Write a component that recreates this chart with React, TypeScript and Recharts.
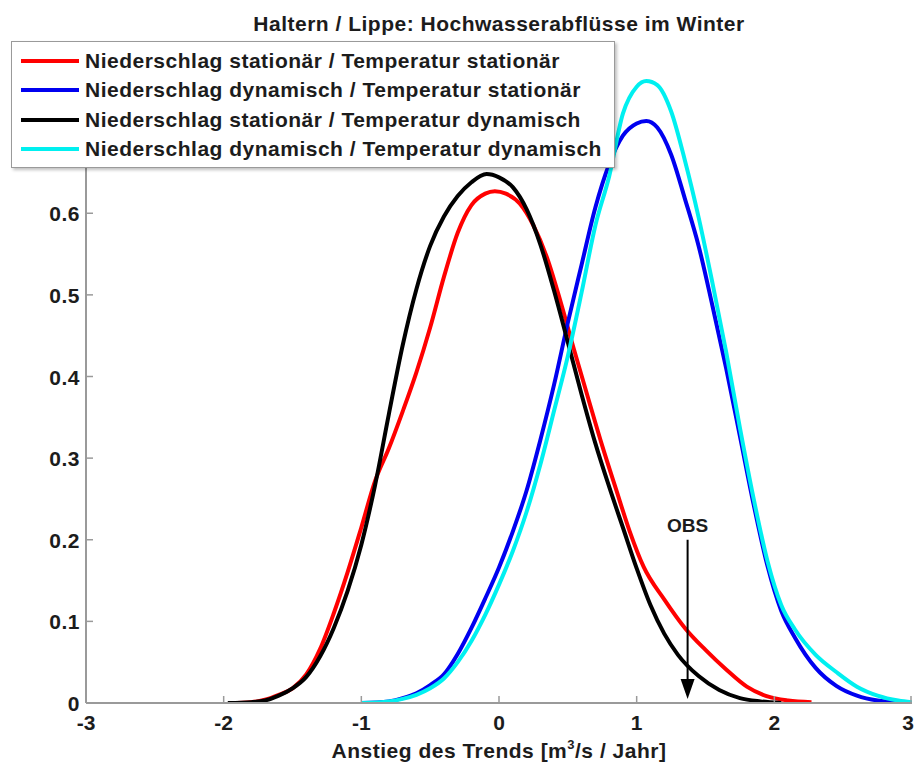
import React from "react";
import { LineChart, Line, XAxis, YAxis, ReferenceLine } from "recharts";

// Red: Niederschlag stationär / Temperatur stationär
const ssX = [-1.95, -1.8, -1.7, -1.6, -1.5, -1.4, -1.3, -1.2, -1.1, -1.0, -0.9, -0.8, -0.7, -0.6, -0.5, -0.4, -0.3, -0.2, -0.1, -0.03, 0.05, 0.15, 0.25, 0.35, 0.45, 0.55, 0.65, 0.75, 0.85, 0.95, 1.05, 1.2, 1.35, 1.5, 1.65, 1.8, 1.95, 2.1, 2.27];
const ssY = [0, 0.001, 0.004, 0.01, 0.018, 0.035, 0.066, 0.11, 0.16, 0.215, 0.272, 0.312, 0.357, 0.405, 0.46, 0.522, 0.576, 0.61, 0.624, 0.627, 0.624, 0.612, 0.585, 0.545, 0.49, 0.43, 0.372, 0.315, 0.262, 0.21, 0.167, 0.127, 0.092, 0.065, 0.041, 0.02, 0.008, 0.003, 0.001];

// Blue: Niederschlag dynamisch / Temperatur stationär
const dsX = [-1.0, -0.8, -0.7, -0.6, -0.5, -0.4, -0.3, -0.2, -0.1, 0.0, 0.1, 0.2, 0.3, 0.4, 0.5, 0.6, 0.7, 0.8, 0.9, 1.0, 1.07, 1.15, 1.25, 1.35, 1.45, 1.55, 1.65, 1.75, 1.85, 1.95, 2.05, 2.15, 2.3, 2.45, 2.6, 2.75, 2.9];
const dsY = [0, 0.002, 0.006, 0.012, 0.022, 0.035, 0.06, 0.092, 0.128, 0.166, 0.21, 0.26, 0.322, 0.39, 0.466, 0.537, 0.607, 0.66, 0.695, 0.71, 0.713, 0.705, 0.672, 0.618, 0.56, 0.487, 0.41, 0.327, 0.243, 0.168, 0.113, 0.08, 0.043, 0.021, 0.009, 0.003, 0.001];

// Black: Niederschlag stationär / Temperatur dynamisch
const sdX = [-1.97, -1.8, -1.7, -1.6, -1.5, -1.4, -1.3, -1.2, -1.1, -1.0, -0.9, -0.8, -0.7, -0.6, -0.5, -0.4, -0.3, -0.2, -0.09, 0.0, 0.1, 0.2, 0.3, 0.4, 0.5, 0.6, 0.7, 0.8, 0.9, 1.0, 1.1, 1.2, 1.3, 1.45, 1.6, 1.75, 1.9, 2.05];
const sdY = [0, 0.001, 0.003, 0.009, 0.018, 0.032, 0.057, 0.092, 0.137, 0.194, 0.267, 0.354, 0.438, 0.507, 0.56, 0.596, 0.621, 0.638, 0.648, 0.644, 0.632, 0.605, 0.562, 0.505, 0.442, 0.378, 0.318, 0.265, 0.215, 0.165, 0.12, 0.085, 0.059, 0.033, 0.016, 0.006, 0.002, 0];

// Cyan: Niederschlag dynamisch / Temperatur dynamisch
const ddX = [-1.0, -0.8, -0.7, -0.6, -0.5, -0.4, -0.3, -0.2, -0.1, 0.0, 0.1, 0.2, 0.3, 0.4, 0.5, 0.6, 0.7, 0.8, 0.9, 1.0, 1.07, 1.15, 1.25, 1.35, 1.45, 1.55, 1.65, 1.75, 1.85, 1.95, 2.05, 2.15, 2.3, 2.45, 2.6, 2.75, 2.9, 3.0];
const ddY = [0, 0.002, 0.005, 0.01, 0.018, 0.03, 0.05, 0.076, 0.108, 0.145, 0.186, 0.234, 0.292, 0.358, 0.425, 0.503, 0.585, 0.645, 0.722, 0.755, 0.762, 0.757, 0.725, 0.665, 0.595, 0.515, 0.43, 0.337, 0.25, 0.174, 0.12, 0.09, 0.059, 0.038, 0.02, 0.009, 0.003, 0.001];

const seriesNames = [
  "Niederschlag stationär / Temperatur stationär",
  "Niederschlag dynamisch / Temperatur stationär",
  "Niederschlag stationär / Temperatur dynamisch",
  "Niederschlag dynamisch / Temperatur dynamisch",
];
const seriesColors = ["#ff0000", "#0000f0", "#000000", "#00f0f0"];

const xTicks = [-3, -2, -1, 0, 1, 2, 3];
const yTicks = [0, 0.1, 0.2, 0.3, 0.4, 0.5, 0.6, 0.7, 0.8];

const obsX = 1.37;
const obsTop = 0.2;
const obsLabel = "OBS";

const title = "Haltern / Lippe: Hochwasserabflüsse im Winter";

const toPoints = (xs: number[], ys: number[]) => xs.map((x, i) => ({ x, y: ys[i] }));
const series = [toPoints(ssX, ssY), toPoints(dsX, dsY), toPoints(sdX, sdY), toPoints(ddX, ddY)];

const W = 915;
const H = 767;
const FONT = "'Liberation Sans', Arial, sans-serif";
const FS = 21;
const LS = 0.5;
const AXIS = "#9a9a9a";
const TEXT = "#1c1c1c";
const TICK = 7;

const BottomTick = (p: any) => {
  // keep the last label inside the picture
  const nearEdge = p.x > W - 10;
  return (
    <g>
      <line x1={p.x} x2={p.x} y1={p.y} y2={p.y - TICK} stroke={AXIS} strokeWidth={1.5} />
      <text
        x={nearEdge ? W - 1 : p.x}
        y={p.y + 27}
        textAnchor={nearEdge ? "end" : "middle"}
        fontFamily={FONT}
        fontWeight="bold"
        fontSize={FS}
        fill={TEXT}
      >
        {p.payload.value}
      </text>
    </g>
  );
};

const TopTick = (p: any) => (
  <line x1={p.x} x2={p.x} y1={p.y} y2={p.y + TICK} stroke={AXIS} strokeWidth={1.5} />
);

const LeftTick = (p: any) => (
  <g>
    <line x1={p.x} x2={p.x + TICK} y1={p.y} y2={p.y} stroke={AXIS} strokeWidth={1.5} />
    <text x={p.x - 6} y={p.y + 8} textAnchor="end" fontFamily={FONT} fontWeight="bold" fontSize={FS} letterSpacing={LS} fill={TEXT}>
      {p.payload.value}
    </text>
  </g>
);

const RightTick = (p: any) => (
  <line x1={p.x} x2={p.x - TICK} y1={p.y} y2={p.y} stroke={AXIS} strokeWidth={1.5} />
);

const XLabel = (p: any) => {
  const vb = p.viewBox;
  return (
    <text x={vb.x + vb.width / 2} y={vb.y + 55} textAnchor="middle" fontFamily={FONT} fontWeight="bold" fontSize={FS} letterSpacing={LS} fill={TEXT}>
      Anstieg des Trends [m
      <tspan dy={-9} fontSize={13}>3</tspan>
      <tspan dy={9}>/s / Jahr]</tspan>
    </text>
  );
};

const ObsArrow = (p: any) => {
  const { x1, y1, x2, y2 } = p;
  return (
    <g>
      <line x1={x1} x2={x2} y1={y1} y2={y2 - 16} stroke="#000" strokeWidth={2} />
      <polygon points={`${x2 - 7},${y2 - 24} ${x2 + 7},${y2 - 24} ${x2},${y2 - 4}`} fill="#000" />
      <line x1={x2} x2={x2} y1={y2 - 1} y2={y2 + 1} stroke="#0000f0" strokeWidth={2} />
      <text x={x1} y={y1 - 8} textAnchor="middle" fontFamily={FONT} fontWeight="bold" fontSize={19} fill={TEXT}>
        {obsLabel}
      </text>
    </g>
  );
};

export default function App() {
  return (
    <div style={{ position: "absolute", left: 0, top: 0, width: W, height: H, background: "#fff" }}>
      <div
        style={{
          position: "absolute",
          left: 86,
          width: 826,
          top: 12,
          textAlign: "center",
          fontFamily: FONT,
          fontWeight: "bold",
          fontSize: FS,
          letterSpacing: LS,
          color: TEXT,
        }}
      >
        {title}
      </div>
      <div style={{ position: "absolute", left: 0, top: 0 }}>
        <LineChart width={W} height={H} margin={{ top: 50, right: 3, bottom: 0, left: 0 }}>
          <XAxis
            dataKey="x"
            type="number"
            domain={[-3, 3]}
            ticks={xTicks}
            allowDataOverflow
            height={64}
            tickSize={0}
            tickMargin={0}
            tick={BottomTick}
            axisLine={{ stroke: AXIS, strokeWidth: 2 }}
            label={XLabel}
          />
          <XAxis
            xAxisId="top"
            orientation="top"
            dataKey="x"
            type="number"
            domain={[-3, 3]}
            ticks={xTicks}
            allowDataOverflow
            height={0}
            tickSize={0}
            tickMargin={0}
            tick={TopTick}
            axisLine={{ stroke: AXIS, strokeWidth: 2 }}
          />
          <YAxis
            type="number"
            domain={[0, 0.8]}
            ticks={yTicks}
            allowDataOverflow
            width={86}
            tickSize={0}
            tickMargin={0}
            tick={LeftTick}
            axisLine={{ stroke: AXIS, strokeWidth: 2 }}
          />
          <YAxis
            yAxisId="right"
            orientation="right"
            type="number"
            domain={[0, 0.8]}
            ticks={yTicks}
            allowDataOverflow
            width={0}
            tickSize={0}
            tickMargin={0}
            tick={RightTick}
            axisLine={{ stroke: AXIS, strokeWidth: 2 }}
          />
          {series.map((data, i) => (
            <Line
              key={seriesNames[i]}
              data={data}
              dataKey="y"
              name={seriesNames[i]}
              type="monotone"
              stroke={seriesColors[i]}
              strokeWidth={4}
              dot={false}
              activeDot={false}
              isAnimationActive={false}
            />
          ))}
          <ReferenceLine
            segment={[
              { x: obsX, y: obsTop },
              { x: obsX, y: 0 },
            ]}
            shape={ObsArrow}
          />
        </LineChart>
      </div>
      <div
        style={{
          position: "absolute",
          left: 11,
          top: 41,
          width: 604,
          height: 127,
          background: "#fff",
          border: "1.5px solid #9a9a9a",
          boxShadow: "2px 2px 3px rgba(0,0,0,0.25)",
          fontFamily: FONT,
          fontWeight: "bold",
          fontSize: FS,
          letterSpacing: LS,
          color: TEXT,
          boxSizing: "border-box",
          paddingTop: 4,
        }}
      >
        {seriesNames.map((name, i) => (
          <div key={name} style={{ display: "flex", alignItems: "center", height: 29.5 }}>
            <div style={{ width: 58, height: 4, background: seriesColors[i], marginLeft: 9, marginRight: 6, flexShrink: 0 }} />
            <span style={{ whiteSpace: "nowrap" }}>{name}</span>
          </div>
        ))}
      </div>
    </div>
  );
}
